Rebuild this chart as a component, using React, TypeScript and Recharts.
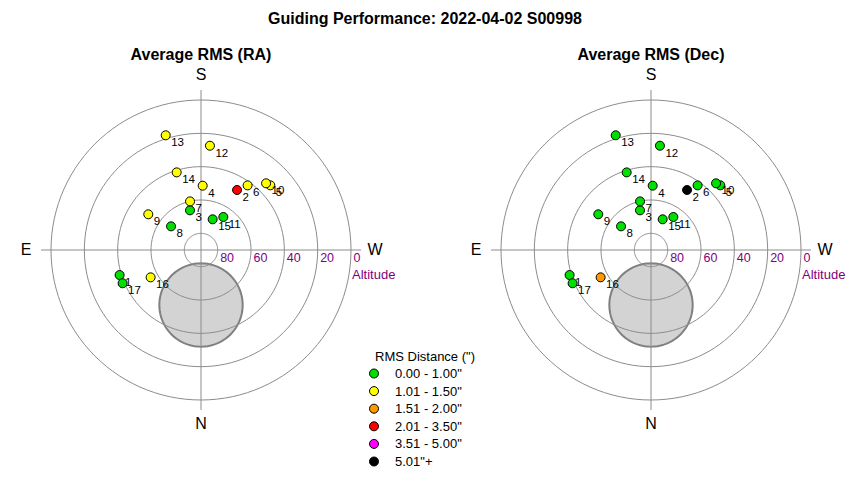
import React from 'react';
import { ScatterChart, Scatter, XAxis, YAxis } from 'recharts';

const FONT = '"Liberation Sans", Arial, Helvetica, sans-serif';

// Guide star positions (azimuth from North through East, altitude in degrees)
const pointIds = [1, 2, 3, 4, 5, 6, 7, 8, 9, 10, 11, 12, 13, 14, 15, 16, 17];
const azimuthDeg = [72.9, 211.0, 164.5, 181.5, 227.0, 215.8, 167.3, 128.3, 124.1, 224.3, 214.1, 184.9, 162.9, 162.6, 200.8, 61.5, 67.0];
const altitudeDeg = [38.9, 48.0, 65.3, 51.4, 33.1, 42.2, 60.1, 67.1, 51.8, 34.1, 66.1, 27.2, 18.0, 41.2, 70.3, 55.6, 38.9];

// RMS classes
const rmsClassLabels = ['0.00 - 1.00"', '1.01 - 1.50"', '1.51 - 2.00"', '2.01 - 3.50"', '3.51 - 5.00"', '5.01"+'];
const rmsClassColors = ['#00e000', '#ffff00', '#ff9900', '#ff0000', '#ff00ff', '#000000'];
const raRmsClass = [0, 3, 0, 1, 1, 1, 1, 0, 1, 1, 0, 1, 1, 1, 0, 1, 0];
const decRmsClass = [0, 5, 0, 0, 0, 0, 0, 0, 0, 0, 0, 0, 0, 0, 0, 2, 0];

// Grid
const altitudeRings = [80, 60, 40, 20, 0];
const compassLabels = ['S', 'N', 'E', 'W'];

// Obstruction disc
const obstructionAz = 0;
const obstructionAlt = 57;
const obstructionRadiusDeg = 25;

const LIMIT = 96;

function toXY(az: number, alt: number) {
  const r = 90 - alt;
  const a = (az * Math.PI) / 180;
  return { x: -r * Math.sin(a), y: -r * Math.cos(a) };
}

function circlePts(cx: number, cy: number, r: number) {
  const pts: { x: number; y: number }[] = [];
  for (let t = 0; t <= 360; t += 3) {
    const a = (t * Math.PI) / 180;
    pts.push({ x: cx + r * Math.cos(a), y: cy + r * Math.sin(a) });
  }
  return pts;
}

const Empty = () => <g />;

function SkyPlot({ classes, left }: { classes: number[]; left: number }) {
  const pts = pointIds.map((id, i) => ({
    ...toXY(azimuthDeg[i], altitudeDeg[i]),
    id,
    color: rmsClassColors[classes[i]],
  }));
  const obsCenter = toXY(obstructionAz, obstructionAlt);
  const obsPts = circlePts(obsCenter.x, obsCenter.y, obstructionRadiusDeg);
  const ringLabelData = altitudeRings.map((alt) => ({ x: 90 - alt, y: 0, label: String(alt) }));
  return (
    <div style={{ position: 'absolute', left, top: 60 }}>
      <ScatterChart width={400} height={380} margin={{ top: 30, right: 40, bottom: 30, left: 40 }}>
        <XAxis type="number" dataKey="x" domain={[-LIMIT, LIMIT]} hide allowDataOverflow />
        <YAxis type="number" dataKey="y" domain={[-LIMIT, LIMIT]} hide allowDataOverflow />
        <Scatter
          data={obsPts}
          isAnimationActive={false}
          line={{ fill: '#d3d3d3', stroke: '#808080', strokeWidth: 2 }}
          shape={Empty}
        />
        {altitudeRings.map((alt) => (
          <Scatter
            key={'ring' + alt}
            data={circlePts(0, 0, 90 - alt)}
            isAnimationActive={false}
            line={{ stroke: '#8c8c8c', strokeWidth: 1, fill: 'none' }}
            shape={Empty}
          />
        ))}
        <Scatter
          data={[{ x: -LIMIT, y: 0 }, { x: LIMIT, y: 0 }]}
          isAnimationActive={false}
          line={{ stroke: '#8c8c8c', strokeWidth: 1, fill: 'none' }}
          shape={Empty}
        />
        <Scatter
          data={[{ x: 0, y: -LIMIT }, { x: 0, y: LIMIT }]}
          isAnimationActive={false}
          line={{ stroke: '#8c8c8c', strokeWidth: 1, fill: 'none' }}
          shape={Empty}
        />
        <Scatter
          data={ringLabelData}
          isAnimationActive={false}
          shape={(p: any) => (
            <text x={p.cx + 2.5} y={p.cy + 12} fill="#800080" fontSize={12.5} fontFamily={FONT}>
              {p.payload.label}
            </text>
          )}
        />
        <Scatter
          data={pts}
          isAnimationActive={false}
          shape={(p: any) => (
            <g>
              <circle cx={p.cx} cy={p.cy} r={4.5} fill={p.payload.color} stroke="#000" strokeWidth={1} />
              <text x={p.cx + 5.5} y={p.cy + 11} fontSize={11.5} fill="#000" fontFamily={FONT}>
                {p.payload.id}
              </text>
            </g>
          )}
        />
      </ScatterChart>
    </div>
  );
}

function Overlay() {
  const centers = [201, 651];
  const subtitles = ['Average RMS (RA)', 'Average RMS (Dec)'];
  return (
    <svg
      width={850}
      height={480}
      style={{ position: 'absolute', left: 0, top: 0, pointerEvents: 'none' }}
      fontFamily={FONT}
    >
      <text x={425} y={24} textAnchor="middle" fontSize={16} fontWeight="bold" fill="#000">
        Guiding Performance: 2022-04-02 S00998
      </text>
      {centers.map((cx, k) => (
        <g key={k}>
          <text x={cx} y={60} textAnchor="middle" fontSize={16} fontWeight="bold" fill="#000">
            {subtitles[k]}
          </text>
          <text x={cx} y={80} textAnchor="middle" fontSize={16} fill="#000">{compassLabels[0]}</text>
          <text x={cx} y={429} textAnchor="middle" fontSize={16} fill="#000">{compassLabels[1]}</text>
          <text x={cx - 175} y={255} textAnchor="middle" fontSize={16} fill="#000">{compassLabels[2]}</text>
          <text x={cx + 174} y={255} textAnchor="middle" fontSize={16} fill="#000">{compassLabels[3]}</text>
          <text x={cx + 151} y={279} fontSize={13} fill="#800080">Altitude</text>
        </g>
      ))}
      <text x={425} y={361} textAnchor="middle" fontSize={13} fill="#000">RMS Distance (")</text>
      {rmsClassLabels.map((lab, i) => (
        <g key={lab}>
          <circle cx={374} cy={373.5 + i * 17.6} r={4.5} fill={rmsClassColors[i]} stroke="#000" strokeWidth={1} />
          <text x={395} y={378 + i * 17.6} fontSize={13} fill="#000">{lab}</text>
        </g>
      ))}
    </svg>
  );
}

export default function App() {
  return (
    <div style={{ position: 'absolute', left: 0, top: 0, width: 850, height: 480, background: '#fff', fontFamily: FONT }}>
      <SkyPlot classes={raRmsClass} left={1} />
      <SkyPlot classes={decRmsClass} left={451} />
      <Overlay />
    </div>
  );
}
